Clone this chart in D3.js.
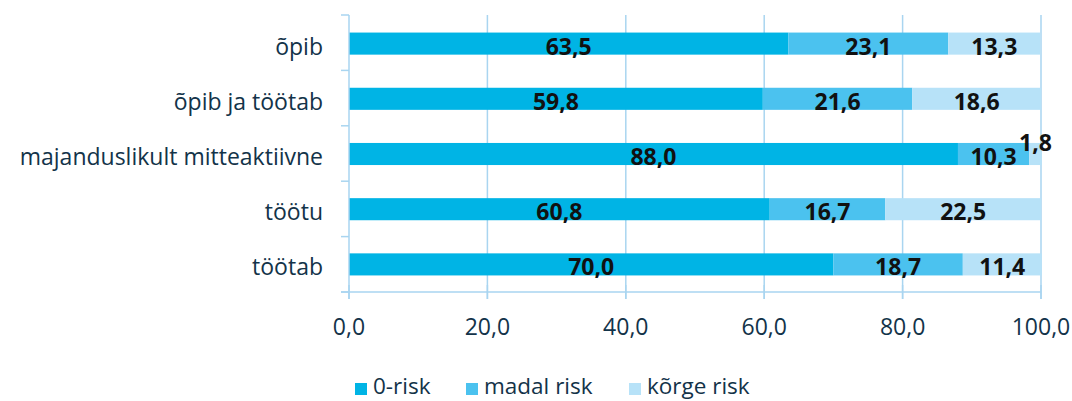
<!DOCTYPE html>
<html><head><meta charset="utf-8">
<script src="https://cdn.jsdelivr.net/npm/d3@7"></script>
<style>body{margin:0;background:#fff}svg{display:block;font-family:"Open Sans",sans-serif}</style>
</head><body><svg id="c" width="1072" height="401"></svg>
<script>
const categories = ["õpib","õpib ja töötab","majanduslikult mitteaktiivne","töötu","töötab"];
const seriesNames = ["0-risk","madal risk","kõrge risk"];
const zeroRisk = [63.5,59.8,88.0,60.8,70.0];
const madalRisk = [23.1,21.6,10.3,16.7,18.7];
const korgeRisk = [13.3,18.6,1.8,22.5,11.4];
const xTicks = [0,20,40,60,80,100];
const colors = ["#00b4e5","#4bc2ef","#b7e2f8"];
const axisColor = "#a9d5f0";
const textColor = "#133349";

const svg = d3.select("#c");
const x = d3.scaleLinear().domain([0,100]).range([349,1041]);
const y = d3.scaleBand().domain(categories).range([16,292]).paddingInner(0.6).paddingOuter(0.3);
const fmt = v => d3.format(".1f")(v).replace(".",",");

const rows = categories.map((c,i)=>({cat:c, vals:[zeroRisk[i],madalRisk[i],korgeRisk[i]]}));
const stack = d3.stack().keys([0,1,2]).value((d,k)=>d.vals[k]);
const layers = stack(rows);

// gridlines
svg.append("g").selectAll("line").data(xTicks.slice(1)).join("line")
  .attr("x1",d=>x(d)).attr("x2",d=>x(d)).attr("y1",15).attr("y2",299)
  .attr("stroke",axisColor).attr("stroke-width",1.5);

// bars
layers.forEach((L,k)=>{
  svg.append("g").selectAll("rect").data(L).join("rect")
    .attr("x",d=>x(d[0])).attr("width",d=>x(d[1])-x(d[0]))
    .attr("y",d=>y(d.data.cat)).attr("height",y.bandwidth())
    .attr("fill",colors[k]);
});

// y axis
const yAx = svg.append("g");
yAx.append("line").attr("x1",349).attr("x2",349).attr("y1",15).attr("y2",299).attr("stroke",axisColor).attr("stroke-width",1.5);
const bounds = d3.range(categories.length+1).map(i=>15 + i*(292-15)/categories.length);
yAx.selectAll("line.t").data(bounds).join("line").attr("class","t")
  .attr("x1",341).attr("x2",349).attr("y1",d=>d).attr("y2",d=>d).attr("stroke",axisColor).attr("stroke-width",1.5);
yAx.selectAll("text").data(categories).join("text")
  .attr("x",323).attr("y",d=>y(d)+y.bandwidth()/2+3).attr("dy","0.35em")
  .attr("text-anchor","end").attr("font-size",23).attr("fill",textColor).text(d=>d);

// x axis
const xAx = svg.append("g");
xAx.append("line").attr("x1",341).attr("x2",1041).attr("y1",292).attr("y2",292).attr("stroke",axisColor).attr("stroke-width",1.5);
xAx.selectAll("line.t").data(xTicks).join("line").attr("class","t")
  .attr("x1",d=>x(d)).attr("x2",d=>x(d)).attr("y1",285).attr("y2",299).attr("stroke",axisColor).attr("stroke-width",1.5);
xAx.selectAll("text").data(xTicks).join("text")
  .attr("x",d=>x(d)).attr("y",327).attr("dy","0.35em").attr("text-anchor","middle")
  .attr("font-size",23).attr("fill",textColor).text(d=>fmt(d));

// data labels
layers.forEach((L,k)=>{
  svg.append("g").selectAll("text").data(L).join("text")
    .attr("x",d=>x((d[0]+d[1])/2))
    .attr("y",d=>{const c=y(d.data.cat)+y.bandwidth()/2+3; return (d[1]-d[0])<5 ? c-14 : c;})
    .attr("dy","0.35em").attr("text-anchor","middle").attr("font-size",23).attr("font-weight","bold")
    .attr("fill","#111").text(d=>fmt(d[1]-d[0]));
});

// legend
const legX = [355,466,629];
const lg = svg.append("g");
seriesNames.forEach((n,i)=>{
  lg.append("rect").attr("x",legX[i]).attr("y",383).attr("width",12).attr("height",12).attr("fill",colors[i]);
  lg.append("text").attr("x",legX[i]+18).attr("y",394).attr("font-size",22.5).attr("fill",textColor).text(n);
});
</script></body></html>
